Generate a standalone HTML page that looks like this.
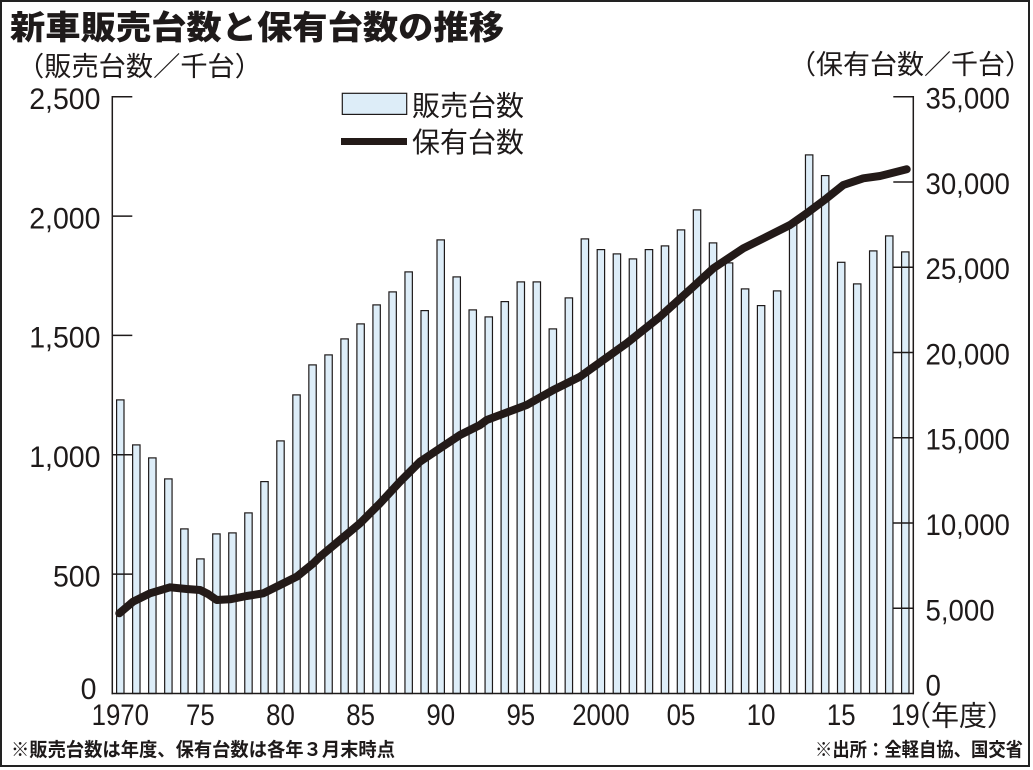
<!DOCTYPE html>
<html><head><meta charset="utf-8">
<style>
html,body{margin:0;padding:0;background:#fff;}
svg{display:block;}
.num{font-family:"Liberation Sans",sans-serif;font-size:30px;fill:#1e1a1a;}
.jp{font-family:"Liberation Sans","Noto Sans CJK JP",sans-serif;fill:#1e1a1a;}
</style></head>
<body>
<svg width="1033" height="770" viewBox="0 0 1033 770" xmlns="http://www.w3.org/2000/svg">
<rect x="0" y="0" width="1033" height="770" fill="#fff"/>
<rect x="1" y="1" width="1028" height="765" fill="none" stroke="#222" stroke-width="2"/>
<text class="jp" x="10" y="39" font-size="33" font-weight="900" textLength="494" lengthAdjust="spacingAndGlyphs">新車販売台数と保有台数の推移</text>
<text class="jp" x="17" y="76" font-size="27" textLength="245" lengthAdjust="spacingAndGlyphs">（販売台数／千台）</text>
<text class="jp" x="789" y="74" font-size="27" textLength="243" lengthAdjust="spacingAndGlyphs">（保有台数／千台）</text>
<g fill="#ddedf8" stroke="#1e1a1a" stroke-width="1.2">
<rect x="116.6" y="399.9" width="7.4" height="293.6"/>
<rect x="132.62" y="444.9" width="7.4" height="248.6"/>
<rect x="148.64" y="457.9" width="7.4" height="235.6"/>
<rect x="164.66" y="478.9" width="7.4" height="214.6"/>
<rect x="180.68" y="528.9" width="7.4" height="164.6"/>
<rect x="196.7" y="558.9" width="7.4" height="134.6"/>
<rect x="212.72" y="533.9" width="7.4" height="159.6"/>
<rect x="228.74" y="532.9" width="7.4" height="160.6"/>
<rect x="244.76" y="512.9" width="7.4" height="180.6"/>
<rect x="260.78" y="481.6" width="7.4" height="211.9"/>
<rect x="276.8" y="440.9" width="7.4" height="252.6"/>
<rect x="292.82" y="394.9" width="7.4" height="298.6"/>
<rect x="308.84" y="364.9" width="7.4" height="328.6"/>
<rect x="324.86" y="354.9" width="7.4" height="338.6"/>
<rect x="340.88" y="338.9" width="7.4" height="354.6"/>
<rect x="356.9" y="323.9" width="7.4" height="369.6"/>
<rect x="372.92" y="304.9" width="7.4" height="388.6"/>
<rect x="388.94" y="291.9" width="7.4" height="401.6"/>
<rect x="404.96" y="271.9" width="7.4" height="421.6"/>
<rect x="420.98" y="310.6" width="7.4" height="382.9"/>
<rect x="437.0" y="239.9" width="7.4" height="453.6"/>
<rect x="453.02" y="276.9" width="7.4" height="416.6"/>
<rect x="469.04" y="309.9" width="7.4" height="383.6"/>
<rect x="485.06" y="316.9" width="7.4" height="376.6"/>
<rect x="501.08" y="301.6" width="7.4" height="391.9"/>
<rect x="517.1" y="281.9" width="7.4" height="411.6"/>
<rect x="533.12" y="281.9" width="7.4" height="411.6"/>
<rect x="549.14" y="328.9" width="7.4" height="364.6"/>
<rect x="565.16" y="297.9" width="7.4" height="395.6"/>
<rect x="581.18" y="238.9" width="7.4" height="454.6"/>
<rect x="597.2" y="249.6" width="7.4" height="443.9"/>
<rect x="613.22" y="253.9" width="7.4" height="439.6"/>
<rect x="629.24" y="258.9" width="7.4" height="434.6"/>
<rect x="645.26" y="249.6" width="7.4" height="443.9"/>
<rect x="661.28" y="245.9" width="7.4" height="447.6"/>
<rect x="677.3" y="229.9" width="7.4" height="463.6"/>
<rect x="693.32" y="209.9" width="7.4" height="483.6"/>
<rect x="709.34" y="242.9" width="7.4" height="450.6"/>
<rect x="725.36" y="262.9" width="7.4" height="430.6"/>
<rect x="741.38" y="288.9" width="7.4" height="404.6"/>
<rect x="757.4" y="305.6" width="7.4" height="387.9"/>
<rect x="773.42" y="290.9" width="7.4" height="402.6"/>
<rect x="789.44" y="224.6" width="7.4" height="468.9"/>
<rect x="805.46" y="154.9" width="7.4" height="538.6"/>
<rect x="821.48" y="175.6" width="7.4" height="517.9"/>
<rect x="837.5" y="262.3" width="7.4" height="431.2"/>
<rect x="853.52" y="283.9" width="7.4" height="409.6"/>
<rect x="869.54" y="250.9" width="7.4" height="442.6"/>
<rect x="885.56" y="235.9" width="7.4" height="457.6"/>
<rect x="901.58" y="251.9" width="7.4" height="441.6"/>
</g>
<g stroke="#1e1a1a" stroke-width="1.5" fill="none">
<line x1="112.3" y1="96" x2="112.3" y2="694.2"/>
<line x1="913.3" y1="96" x2="913.3" y2="694.2"/>
<line x1="111.5" y1="693.5" x2="914" y2="693.5"/>
<line x1="112.3" y1="96.7" x2="132.3" y2="96.7"/>
<line x1="112.3" y1="216.1" x2="132.3" y2="216.1"/>
<line x1="112.3" y1="335.4" x2="132.3" y2="335.4"/>
<line x1="112.3" y1="454.8" x2="132.3" y2="454.8"/>
<line x1="112.3" y1="574.1" x2="132.3" y2="574.1"/>
<line x1="893.3" y1="96.7" x2="913.3" y2="96.7"/>
<line x1="893.3" y1="182.0" x2="913.3" y2="182.0"/>
<line x1="893.3" y1="267.2" x2="913.3" y2="267.2"/>
<line x1="893.3" y1="352.5" x2="913.3" y2="352.5"/>
<line x1="893.3" y1="437.7" x2="913.3" y2="437.7"/>
<line x1="893.3" y1="523.0" x2="913.3" y2="523.0"/>
<line x1="893.3" y1="608.3" x2="913.3" y2="608.3"/>
</g>
<polyline fill="none" stroke="#231a18" stroke-width="8" stroke-linecap="round" stroke-linejoin="round" points="119.3,613.3 133,601.7 150,593.3 170,587.3 186.7,589 200,590 208,594 216.7,600 230,599.3 246.7,596 263.3,593.3 280,585 296.7,576.7 313.3,563.3 320,556.7 340,540 360,523.3 380,503.3 400,481.7 420,461.7 440,448.3 460,435 480,425 486.7,420 526.7,405 553.3,390 580,376.7 603.3,360 626.7,343.3 660,316.7 693.3,286.7 713.3,268.3 743.3,248.3 766.7,236.7 790,225 806.7,213.3 826.7,198.3 843.3,185 863.3,178.3 880,176 906.7,169.3"/>
<rect x="342.3" y="93.3" width="64.4" height="21.1" fill="#ddedf8" stroke="#1e1a1a" stroke-width="1.2"/>
<text class="jp" x="412" y="115.5" font-size="28" textLength="112" lengthAdjust="spacingAndGlyphs">販売台数</text>
<line x1="341" y1="141.5" x2="407" y2="141.5" stroke="#231a18" stroke-width="7"/>
<text class="jp" x="412" y="152" font-size="28" textLength="112" lengthAdjust="spacingAndGlyphs">保有台数</text>
<g class="num" text-anchor="end">
<text transform="translate(100.5,109) scale(0.95,1)">2,500</text>
<text transform="translate(100.5,228.4) scale(0.95,1)">2,000</text>
<text transform="translate(100.5,347.7) scale(0.95,1)">1,500</text>
<text transform="translate(100.5,467.1) scale(0.95,1)">1,000</text>
<text transform="translate(100.5,586.4) scale(0.95,1)">500</text>
<text transform="translate(96.5,699) scale(0.95,1)">0</text>
</g>
<g class="num">
<text transform="translate(925.5,108.7) scale(0.92,1)">35,000</text>
<text transform="translate(925.5,194) scale(0.92,1)">30,000</text>
<text transform="translate(925.5,279.2) scale(0.92,1)">25,000</text>
<text transform="translate(925.5,364.5) scale(0.92,1)">20,000</text>
<text transform="translate(925.5,449.7) scale(0.92,1)">15,000</text>
<text transform="translate(925.5,535) scale(0.92,1)">10,000</text>
<text transform="translate(925.5,620.3) scale(0.92,1)">5,000</text>
<text transform="translate(925.5,695.5) scale(0.92,1)">0</text>
</g>
<g class="num" text-anchor="middle">
<text transform="translate(120.3,725) scale(0.86,1)">1970</text>
<text transform="translate(200.4,725) scale(0.86,1)">75</text>
<text transform="translate(280.5,725) scale(0.86,1)">80</text>
<text transform="translate(360.6,725) scale(0.86,1)">85</text>
<text transform="translate(440.7,725) scale(0.86,1)">90</text>
<text transform="translate(520.8,725) scale(0.86,1)">95</text>
<text transform="translate(600.9,725) scale(0.86,1)">2000</text>
<text transform="translate(681,725) scale(0.86,1)">05</text>
<text transform="translate(761.1,725) scale(0.86,1)">10</text>
<text transform="translate(841.2,725) scale(0.86,1)">15</text>
<text transform="translate(905.3,725) scale(0.86,1)">19</text>
</g>
<text class="jp" x="903" y="725.6" font-size="28" textLength="112" lengthAdjust="spacingAndGlyphs">（年度）</text>
<text class="jp" x="11" y="756" font-size="19" font-weight="bold" textLength="384" lengthAdjust="spacingAndGlyphs">※販売台数は年度、保有台数は各年３月末時点</text>
<text class="jp" x="815" y="756" font-size="19" font-weight="bold" textLength="208" lengthAdjust="spacingAndGlyphs">※出所：全軽自協、国交省</text>
</svg>
</body></html>
